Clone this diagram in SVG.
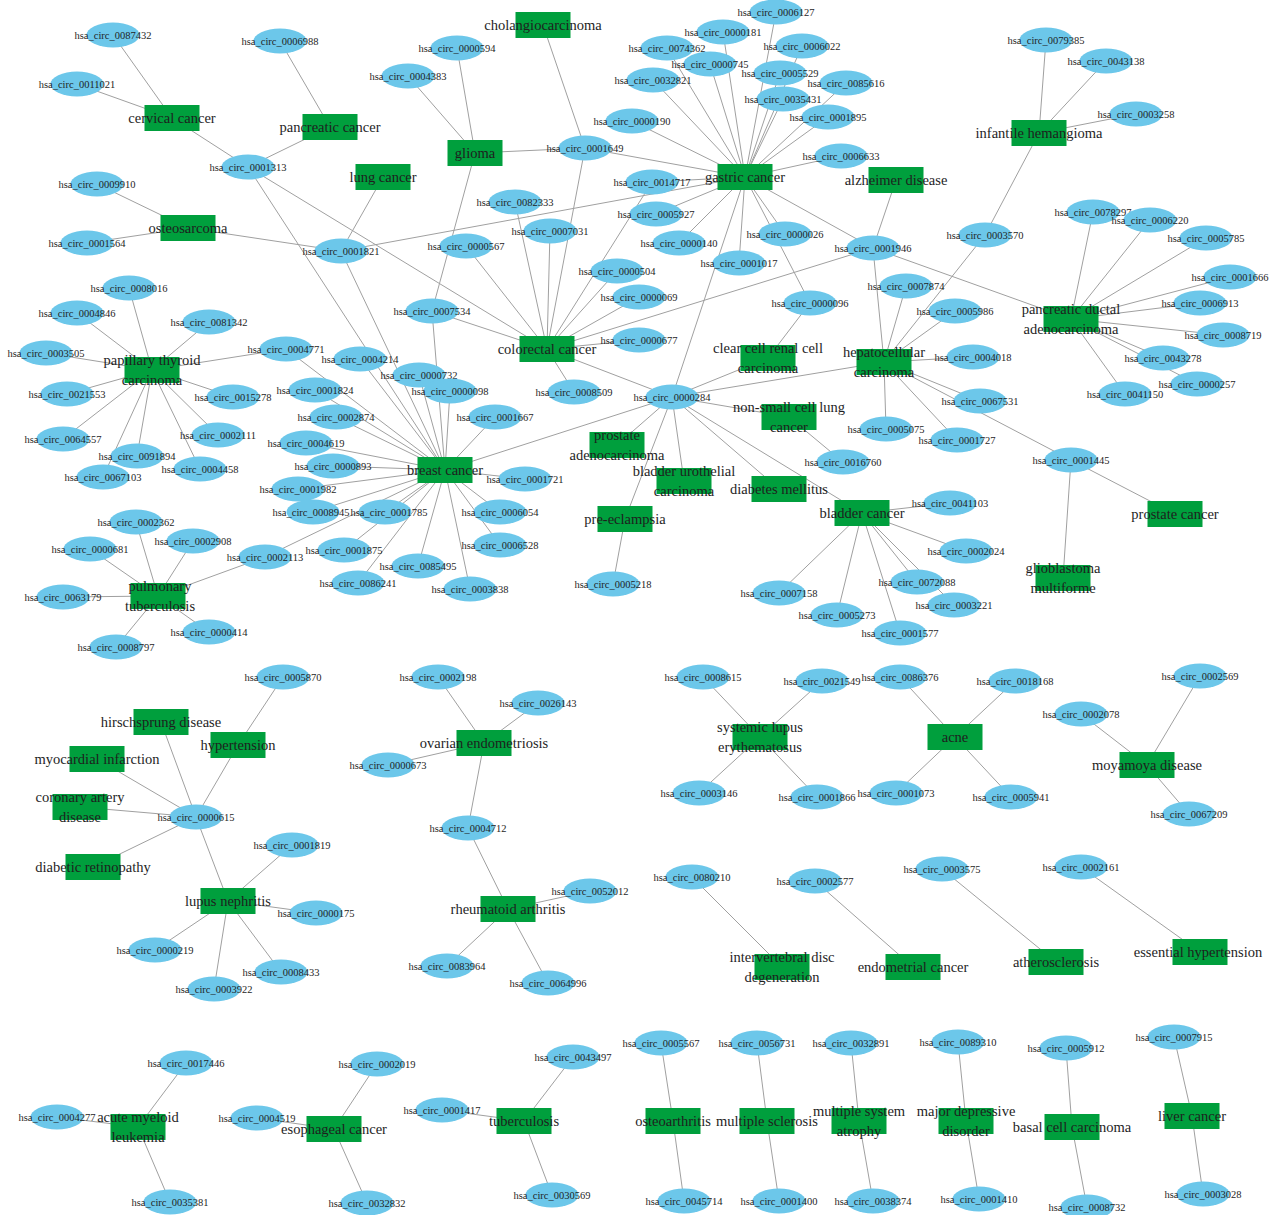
<svg xmlns="http://www.w3.org/2000/svg" width="1273" height="1215" viewBox="0 0 1273 1215">
<style>
.edges line{stroke:#a0a0a0;stroke-width:1}
.c ellipse{fill:#6cc7ea}
.d rect{fill:#009f3d}
text{font-family:"Liberation Serif","DejaVu Serif",serif;fill:#1e1e1e;text-anchor:middle;dominant-baseline:central}
.c text{font-size:10.5px}
.d text{font-size:14.5px}
</style>
<rect width="1273" height="1215" fill="#ffffff"/>
<g id="connectors" class="edges">
<line x1="172" y1="118" x2="113" y2="35"/><line x1="172" y1="118" x2="77" y2="84"/><line x1="172" y1="118" x2="248" y2="167"/>
<line x1="330" y1="127" x2="280" y2="41"/><line x1="330" y1="127" x2="248" y2="167"/>
<line x1="248" y1="167" x2="547" y2="349"/><line x1="248" y1="167" x2="445" y2="470"/>
<line x1="188" y1="228" x2="97" y2="184"/><line x1="188" y1="228" x2="87" y2="243"/><line x1="188" y1="228" x2="341" y2="251"/>
<line x1="383" y1="177" x2="341" y2="251"/><line x1="341" y1="251" x2="745" y2="177"/><line x1="341" y1="251" x2="445" y2="470"/>
<line x1="475" y1="153" x2="408" y2="76"/><line x1="475" y1="153" x2="457" y2="48"/><line x1="475" y1="153" x2="585" y2="148"/><line x1="475" y1="153" x2="432" y2="311"/>
<line x1="543" y1="25" x2="585" y2="148"/><line x1="585" y1="148" x2="745" y2="177"/><line x1="585" y1="148" x2="547" y2="349"/>
<line x1="745" y1="177" x2="632" y2="121"/><line x1="745" y1="177" x2="667" y2="48"/><line x1="745" y1="177" x2="723" y2="32"/><line x1="745" y1="177" x2="776" y2="12"/><line x1="745" y1="177" x2="802" y2="46"/><line x1="745" y1="177" x2="710" y2="64"/><line x1="745" y1="177" x2="780" y2="73"/><line x1="745" y1="177" x2="653" y2="80"/><line x1="745" y1="177" x2="783" y2="99"/><line x1="745" y1="177" x2="846" y2="83"/><line x1="745" y1="177" x2="828" y2="117"/><line x1="745" y1="177" x2="841" y2="156"/><line x1="745" y1="177" x2="652" y2="182"/><line x1="745" y1="177" x2="656" y2="214"/><line x1="745" y1="177" x2="679" y2="243"/><line x1="745" y1="177" x2="785" y2="234"/><line x1="745" y1="177" x2="810" y2="303"/><line x1="745" y1="177" x2="873" y2="248"/><line x1="745" y1="177" x2="672" y2="397"/><line x1="745" y1="177" x2="739" y2="263"/>
<line x1="547" y1="349" x2="515" y2="202"/><line x1="547" y1="349" x2="550" y2="231"/><line x1="547" y1="349" x2="466" y2="246"/><line x1="547" y1="349" x2="432" y2="311"/><line x1="547" y1="349" x2="652" y2="182"/><line x1="547" y1="349" x2="617" y2="271"/><line x1="547" y1="349" x2="639" y2="297"/><line x1="547" y1="349" x2="639" y2="340"/><line x1="547" y1="349" x2="574" y2="392"/><line x1="547" y1="349" x2="873" y2="248"/><line x1="547" y1="349" x2="672" y2="397"/>
<line x1="1039" y1="133" x2="1046" y2="40"/><line x1="1039" y1="133" x2="1106" y2="61"/><line x1="1039" y1="133" x2="1136" y2="114"/><line x1="1039" y1="133" x2="985" y2="235"/>
<line x1="896" y1="180" x2="873" y2="248"/><line x1="873" y1="248" x2="884" y2="362"/><line x1="873" y1="248" x2="1071" y2="319"/><line x1="985" y1="235" x2="884" y2="362"/>
<line x1="884" y1="362" x2="906" y2="286"/><line x1="884" y1="362" x2="955" y2="311"/><line x1="884" y1="362" x2="973" y2="357"/><line x1="884" y1="362" x2="980" y2="401"/><line x1="884" y1="362" x2="886" y2="429"/><line x1="884" y1="362" x2="957" y2="440"/><line x1="884" y1="362" x2="1071" y2="460"/><line x1="884" y1="362" x2="672" y2="397"/>
<line x1="1071" y1="319" x2="1093" y2="212"/><line x1="1071" y1="319" x2="1150" y2="220"/><line x1="1071" y1="319" x2="1206" y2="238"/><line x1="1071" y1="319" x2="1230" y2="277"/><line x1="1071" y1="319" x2="1200" y2="303"/><line x1="1071" y1="319" x2="1223" y2="335"/><line x1="1071" y1="319" x2="1163" y2="358"/><line x1="1071" y1="319" x2="1197" y2="384"/><line x1="1071" y1="319" x2="1125" y2="394"/>
<line x1="768" y1="358" x2="810" y2="303"/><line x1="768" y1="358" x2="672" y2="397"/><line x1="789" y1="417" x2="672" y2="397"/><line x1="789" y1="417" x2="843" y2="462"/>
<line x1="1071" y1="460" x2="1175" y2="514"/><line x1="1071" y1="460" x2="1063" y2="578"/>
<line x1="152" y1="370" x2="129" y2="288"/><line x1="152" y1="370" x2="77" y2="313"/><line x1="152" y1="370" x2="209" y2="322"/><line x1="152" y1="370" x2="46" y2="353"/><line x1="152" y1="370" x2="286" y2="349"/><line x1="152" y1="370" x2="67" y2="394"/><line x1="152" y1="370" x2="233" y2="397"/><line x1="152" y1="370" x2="63" y2="439"/><line x1="152" y1="370" x2="137" y2="456"/><line x1="152" y1="370" x2="103" y2="477"/><line x1="152" y1="370" x2="200" y2="469"/><line x1="152" y1="370" x2="218" y2="435"/>
<line x1="286" y1="349" x2="445" y2="470"/>
<line x1="445" y1="470" x2="360" y2="359"/><line x1="445" y1="470" x2="419" y2="375"/><line x1="445" y1="470" x2="450" y2="391"/><line x1="445" y1="470" x2="495" y2="417"/><line x1="445" y1="470" x2="315" y2="390"/><line x1="445" y1="470" x2="336" y2="417"/><line x1="445" y1="470" x2="306" y2="443"/><line x1="445" y1="470" x2="333" y2="466"/><line x1="445" y1="470" x2="298" y2="489"/><line x1="445" y1="470" x2="313" y2="512"/><line x1="445" y1="470" x2="385" y2="512"/><line x1="445" y1="470" x2="344" y2="550"/><line x1="445" y1="470" x2="358" y2="583"/><line x1="445" y1="470" x2="418" y2="566"/><line x1="445" y1="470" x2="470" y2="589"/><line x1="445" y1="470" x2="500" y2="545"/><line x1="445" y1="470" x2="500" y2="512"/><line x1="445" y1="470" x2="525" y2="479"/><line x1="445" y1="470" x2="672" y2="397"/><line x1="445" y1="470" x2="265" y2="557"/><line x1="445" y1="470" x2="432" y2="311"/>
<line x1="158" y1="596" x2="136" y2="522"/><line x1="158" y1="596" x2="193" y2="541"/><line x1="158" y1="596" x2="90" y2="549"/><line x1="158" y1="596" x2="63" y2="597"/><line x1="158" y1="596" x2="209" y2="632"/><line x1="158" y1="596" x2="116" y2="647"/><line x1="158" y1="596" x2="265" y2="557"/>
<line x1="672" y1="397" x2="617" y2="445"/><line x1="672" y1="397" x2="684" y2="481"/><line x1="672" y1="397" x2="625" y2="519"/><line x1="672" y1="397" x2="779" y2="489"/><line x1="672" y1="397" x2="862" y2="513"/>
<line x1="625" y1="519" x2="613" y2="584"/>
<line x1="862" y1="513" x2="950" y2="503"/><line x1="862" y1="513" x2="966" y2="551"/><line x1="862" y1="513" x2="917" y2="582"/><line x1="862" y1="513" x2="954" y2="605"/><line x1="862" y1="513" x2="900" y2="633"/><line x1="862" y1="513" x2="837" y2="615"/><line x1="862" y1="513" x2="779" y2="593"/>
<line x1="238" y1="745" x2="283" y2="677"/>
<line x1="196" y1="817" x2="161" y2="722"/><line x1="196" y1="817" x2="238" y2="745"/><line x1="196" y1="817" x2="97" y2="759"/><line x1="196" y1="817" x2="80" y2="807"/><line x1="196" y1="817" x2="93" y2="867"/><line x1="196" y1="817" x2="228" y2="901"/>
<line x1="228" y1="901" x2="292" y2="845"/><line x1="228" y1="901" x2="316" y2="913"/><line x1="228" y1="901" x2="155" y2="950"/><line x1="228" y1="901" x2="281" y2="972"/><line x1="228" y1="901" x2="214" y2="989"/>
<line x1="484" y1="743" x2="438" y2="677"/><line x1="484" y1="743" x2="538" y2="703"/><line x1="484" y1="743" x2="388" y2="765"/><line x1="484" y1="743" x2="468" y2="828"/><line x1="468" y1="828" x2="508" y2="909"/>
<line x1="508" y1="909" x2="590" y2="891"/><line x1="508" y1="909" x2="447" y2="966"/><line x1="508" y1="909" x2="548" y2="983"/>
<line x1="760" y1="737" x2="703" y2="677"/><line x1="760" y1="737" x2="822" y2="681"/><line x1="760" y1="737" x2="699" y2="793"/><line x1="760" y1="737" x2="817" y2="797"/>
<line x1="955" y1="737" x2="900" y2="677"/><line x1="955" y1="737" x2="1015" y2="681"/><line x1="955" y1="737" x2="896" y2="793"/><line x1="955" y1="737" x2="1011" y2="797"/>
<line x1="1147" y1="765" x2="1081" y2="714"/><line x1="1147" y1="765" x2="1200" y2="676"/><line x1="1147" y1="765" x2="1189" y2="814"/>
<line x1="782" y1="967" x2="692" y2="877"/><line x1="913" y1="967" x2="815" y2="881"/><line x1="1056" y1="962" x2="942" y2="869"/><line x1="1200" y1="952" x2="1081" y2="867"/>
<line x1="138" y1="1127" x2="186" y2="1063"/><line x1="138" y1="1127" x2="57" y2="1117"/><line x1="138" y1="1127" x2="170" y2="1202"/>
<line x1="334" y1="1129" x2="377" y2="1064"/><line x1="334" y1="1129" x2="257" y2="1118"/><line x1="334" y1="1129" x2="367" y2="1203"/>
<line x1="524" y1="1121" x2="573" y2="1057"/><line x1="524" y1="1121" x2="442" y2="1110"/><line x1="524" y1="1121" x2="552" y2="1195"/>
<line x1="673" y1="1121" x2="661" y2="1043"/><line x1="673" y1="1121" x2="684" y2="1201"/>
<line x1="767" y1="1121" x2="757" y2="1043"/><line x1="767" y1="1121" x2="779" y2="1201"/>
<line x1="859" y1="1121" x2="851" y2="1043"/><line x1="859" y1="1121" x2="873" y2="1201"/>
<line x1="966" y1="1121" x2="958" y2="1042"/><line x1="966" y1="1121" x2="979" y2="1199"/>
<line x1="1072" y1="1127" x2="1066" y2="1048"/><line x1="1072" y1="1127" x2="1087" y2="1207"/>
<line x1="1192" y1="1116" x2="1174" y2="1037"/><line x1="1192" y1="1116" x2="1203" y2="1194"/>
</g>
<g id="circ-nodes">
<g id="hsa_circ_0087432" class="c"><ellipse cx="113" cy="35" rx="26.5" ry="12.5"/><text x="113" y="35">hsa_circ_0087432</text></g>
<g id="hsa_circ_0011021" class="c"><ellipse cx="77" cy="84" rx="26.5" ry="12.5"/><text x="77" y="84">hsa_circ_0011021</text></g>
<g id="hsa_circ_0006988" class="c"><ellipse cx="280" cy="41" rx="26.5" ry="12.5"/><text x="280" y="41">hsa_circ_0006988</text></g>
<g id="hsa_circ_0001313" class="c"><ellipse cx="248" cy="167" rx="26.5" ry="12.5"/><text x="248" y="167">hsa_circ_0001313</text></g>
<g id="hsa_circ_0009910" class="c"><ellipse cx="97" cy="184" rx="26.5" ry="12.5"/><text x="97" y="184">hsa_circ_0009910</text></g>
<g id="hsa_circ_0004383" class="c"><ellipse cx="408" cy="76" rx="26.5" ry="12.5"/><text x="408" y="76">hsa_circ_0004383</text></g>
<g id="hsa_circ_0000594" class="c"><ellipse cx="457" cy="48" rx="26.5" ry="12.5"/><text x="457" y="48">hsa_circ_0000594</text></g>
<g id="hsa_circ_0001649" class="c"><ellipse cx="585" cy="148" rx="26.5" ry="12.5"/><text x="585" y="148">hsa_circ_0001649</text></g>
<g id="hsa_circ_0000190" class="c"><ellipse cx="632" cy="121" rx="26.5" ry="12.5"/><text x="632" y="121">hsa_circ_0000190</text></g>
<g id="hsa_circ_0074362" class="c"><ellipse cx="667" cy="48" rx="26.5" ry="12.5"/><text x="667" y="48">hsa_circ_0074362</text></g>
<g id="hsa_circ_0000181" class="c"><ellipse cx="723" cy="32" rx="26.5" ry="12.5"/><text x="723" y="32">hsa_circ_0000181</text></g>
<g id="hsa_circ_0006127" class="c"><ellipse cx="776" cy="12" rx="26.5" ry="12.5"/><text x="776" y="12">hsa_circ_0006127</text></g>
<g id="hsa_circ_0006022" class="c"><ellipse cx="802" cy="46" rx="26.5" ry="12.5"/><text x="802" y="46">hsa_circ_0006022</text></g>
<g id="hsa_circ_0000745" class="c"><ellipse cx="710" cy="64" rx="26.5" ry="12.5"/><text x="710" y="64">hsa_circ_0000745</text></g>
<g id="hsa_circ_0005529" class="c"><ellipse cx="780" cy="73" rx="26.5" ry="12.5"/><text x="780" y="73">hsa_circ_0005529</text></g>
<g id="hsa_circ_0032821" class="c"><ellipse cx="653" cy="80" rx="26.5" ry="12.5"/><text x="653" y="80">hsa_circ_0032821</text></g>
<g id="hsa_circ_0035431" class="c"><ellipse cx="783" cy="99" rx="26.5" ry="12.5"/><text x="783" y="99">hsa_circ_0035431</text></g>
<g id="hsa_circ_0085616" class="c"><ellipse cx="846" cy="83" rx="26.5" ry="12.5"/><text x="846" y="83">hsa_circ_0085616</text></g>
<g id="hsa_circ_0001895" class="c"><ellipse cx="828" cy="117" rx="26.5" ry="12.5"/><text x="828" y="117">hsa_circ_0001895</text></g>
<g id="hsa_circ_0006633" class="c"><ellipse cx="841" cy="156" rx="26.5" ry="12.5"/><text x="841" y="156">hsa_circ_0006633</text></g>
<g id="hsa_circ_0014717" class="c"><ellipse cx="652" cy="182" rx="26.5" ry="12.5"/><text x="652" y="182">hsa_circ_0014717</text></g>
<g id="hsa_circ_0082333" class="c"><ellipse cx="515" cy="202" rx="26.5" ry="12.5"/><text x="515" y="202">hsa_circ_0082333</text></g>
<g id="hsa_circ_0005927" class="c"><ellipse cx="656" cy="214" rx="26.5" ry="12.5"/><text x="656" y="214">hsa_circ_0005927</text></g>
<g id="hsa_circ_0079385" class="c"><ellipse cx="1046" cy="40" rx="26.5" ry="12.5"/><text x="1046" y="40">hsa_circ_0079385</text></g>
<g id="hsa_circ_0043138" class="c"><ellipse cx="1106" cy="61" rx="26.5" ry="12.5"/><text x="1106" y="61">hsa_circ_0043138</text></g>
<g id="hsa_circ_0003258" class="c"><ellipse cx="1136" cy="114" rx="26.5" ry="12.5"/><text x="1136" y="114">hsa_circ_0003258</text></g>
<g id="hsa_circ_0078297" class="c"><ellipse cx="1093" cy="212" rx="26.5" ry="12.5"/><text x="1093" y="212">hsa_circ_0078297</text></g>
<g id="hsa_circ_0006220" class="c"><ellipse cx="1150" cy="220" rx="26.5" ry="12.5"/><text x="1150" y="220">hsa_circ_0006220</text></g>
<g id="hsa_circ_0001564" class="c"><ellipse cx="87" cy="243" rx="26.5" ry="12.5"/><text x="87" y="243">hsa_circ_0001564</text></g>
<g id="hsa_circ_0001821" class="c"><ellipse cx="341" cy="251" rx="26.5" ry="12.5"/><text x="341" y="251">hsa_circ_0001821</text></g>
<g id="hsa_circ_0008016" class="c"><ellipse cx="129" cy="288" rx="26.5" ry="12.5"/><text x="129" y="288">hsa_circ_0008016</text></g>
<g id="hsa_circ_0004846" class="c"><ellipse cx="77" cy="313" rx="26.5" ry="12.5"/><text x="77" y="313">hsa_circ_0004846</text></g>
<g id="hsa_circ_0081342" class="c"><ellipse cx="209" cy="322" rx="26.5" ry="12.5"/><text x="209" y="322">hsa_circ_0081342</text></g>
<g id="hsa_circ_0003505" class="c"><ellipse cx="46" cy="353" rx="26.5" ry="12.5"/><text x="46" y="353">hsa_circ_0003505</text></g>
<g id="hsa_circ_0004771" class="c"><ellipse cx="286" cy="349" rx="26.5" ry="12.5"/><text x="286" y="349">hsa_circ_0004771</text></g>
<g id="hsa_circ_0004214" class="c"><ellipse cx="360" cy="359" rx="26.5" ry="12.5"/><text x="360" y="359">hsa_circ_0004214</text></g>
<g id="hsa_circ_0021553" class="c"><ellipse cx="67" cy="394" rx="26.5" ry="12.5"/><text x="67" y="394">hsa_circ_0021553</text></g>
<g id="hsa_circ_0015278" class="c"><ellipse cx="233" cy="397" rx="26.5" ry="12.5"/><text x="233" y="397">hsa_circ_0015278</text></g>
<g id="hsa_circ_0001824" class="c"><ellipse cx="315" cy="390" rx="26.5" ry="12.5"/><text x="315" y="390">hsa_circ_0001824</text></g>
<g id="hsa_circ_0002874" class="c"><ellipse cx="336" cy="417" rx="26.5" ry="12.5"/><text x="336" y="417">hsa_circ_0002874</text></g>
<g id="hsa_circ_0000567" class="c"><ellipse cx="466" cy="246" rx="26.5" ry="12.5"/><text x="466" y="246">hsa_circ_0000567</text></g>
<g id="hsa_circ_0007534" class="c"><ellipse cx="432" cy="311" rx="26.5" ry="12.5"/><text x="432" y="311">hsa_circ_0007534</text></g>
<g id="hsa_circ_0000732" class="c"><ellipse cx="419" cy="375" rx="26.5" ry="12.5"/><text x="419" y="375">hsa_circ_0000732</text></g>
<g id="hsa_circ_0000098" class="c"><ellipse cx="450" cy="391" rx="26.5" ry="12.5"/><text x="450" y="391">hsa_circ_0000098</text></g>
<g id="hsa_circ_0001667" class="c"><ellipse cx="495" cy="417" rx="26.5" ry="12.5"/><text x="495" y="417">hsa_circ_0001667</text></g>
<g id="hsa_circ_0007031" class="c"><ellipse cx="550" cy="231" rx="26.5" ry="12.5"/><text x="550" y="231">hsa_circ_0007031</text></g>
<g id="hsa_circ_0000140" class="c"><ellipse cx="679" cy="243" rx="26.5" ry="12.5"/><text x="679" y="243">hsa_circ_0000140</text></g>
<g id="hsa_circ_0000026" class="c"><ellipse cx="785" cy="234" rx="26.5" ry="12.5"/><text x="785" y="234">hsa_circ_0000026</text></g>
<g id="hsa_circ_0001017" class="c"><ellipse cx="739" cy="263" rx="26.5" ry="12.5"/><text x="739" y="263">hsa_circ_0001017</text></g>
<g id="hsa_circ_0000504" class="c"><ellipse cx="617" cy="271" rx="26.5" ry="12.5"/><text x="617" y="271">hsa_circ_0000504</text></g>
<g id="hsa_circ_0000069" class="c"><ellipse cx="639" cy="297" rx="26.5" ry="12.5"/><text x="639" y="297">hsa_circ_0000069</text></g>
<g id="hsa_circ_0000096" class="c"><ellipse cx="810" cy="303" rx="26.5" ry="12.5"/><text x="810" y="303">hsa_circ_0000096</text></g>
<g id="hsa_circ_0000677" class="c"><ellipse cx="639" cy="340" rx="26.5" ry="12.5"/><text x="639" y="340">hsa_circ_0000677</text></g>
<g id="hsa_circ_0008509" class="c"><ellipse cx="574" cy="392" rx="26.5" ry="12.5"/><text x="574" y="392">hsa_circ_0008509</text></g>
<g id="hsa_circ_0000284" class="c"><ellipse cx="672" cy="397" rx="26.5" ry="12.5"/><text x="672" y="397">hsa_circ_0000284</text></g>
<g id="hsa_circ_0001946" class="c"><ellipse cx="873" cy="248" rx="26.5" ry="12.5"/><text x="873" y="248">hsa_circ_0001946</text></g>
<g id="hsa_circ_0003570" class="c"><ellipse cx="985" cy="235" rx="26.5" ry="12.5"/><text x="985" y="235">hsa_circ_0003570</text></g>
<g id="hsa_circ_0005785" class="c"><ellipse cx="1206" cy="238" rx="26.5" ry="12.5"/><text x="1206" y="238">hsa_circ_0005785</text></g>
<g id="hsa_circ_0007874" class="c"><ellipse cx="906" cy="286" rx="26.5" ry="12.5"/><text x="906" y="286">hsa_circ_0007874</text></g>
<g id="hsa_circ_0005986" class="c"><ellipse cx="955" cy="311" rx="26.5" ry="12.5"/><text x="955" y="311">hsa_circ_0005986</text></g>
<g id="hsa_circ_0001666" class="c"><ellipse cx="1230" cy="277" rx="26.5" ry="12.5"/><text x="1230" y="277">hsa_circ_0001666</text></g>
<g id="hsa_circ_0006913" class="c"><ellipse cx="1200" cy="303" rx="26.5" ry="12.5"/><text x="1200" y="303">hsa_circ_0006913</text></g>
<g id="hsa_circ_0008719" class="c"><ellipse cx="1223" cy="335" rx="26.5" ry="12.5"/><text x="1223" y="335">hsa_circ_0008719</text></g>
<g id="hsa_circ_0004018" class="c"><ellipse cx="973" cy="357" rx="26.5" ry="12.5"/><text x="973" y="357">hsa_circ_0004018</text></g>
<g id="hsa_circ_0043278" class="c"><ellipse cx="1163" cy="358" rx="26.5" ry="12.5"/><text x="1163" y="358">hsa_circ_0043278</text></g>
<g id="hsa_circ_0000257" class="c"><ellipse cx="1197" cy="384" rx="26.5" ry="12.5"/><text x="1197" y="384">hsa_circ_0000257</text></g>
<g id="hsa_circ_0041150" class="c"><ellipse cx="1125" cy="394" rx="26.5" ry="12.5"/><text x="1125" y="394">hsa_circ_0041150</text></g>
<g id="hsa_circ_0067531" class="c"><ellipse cx="980" cy="401" rx="26.5" ry="12.5"/><text x="980" y="401">hsa_circ_0067531</text></g>
<g id="hsa_circ_0005075" class="c"><ellipse cx="886" cy="429" rx="26.5" ry="12.5"/><text x="886" y="429">hsa_circ_0005075</text></g>
<g id="hsa_circ_0064557" class="c"><ellipse cx="63" cy="439" rx="26.5" ry="12.5"/><text x="63" y="439">hsa_circ_0064557</text></g>
<g id="hsa_circ_0002111" class="c"><ellipse cx="218" cy="435" rx="26.5" ry="12.5"/><text x="218" y="435">hsa_circ_0002111</text></g>
<g id="hsa_circ_0091894" class="c"><ellipse cx="137" cy="456" rx="26.5" ry="12.5"/><text x="137" y="456">hsa_circ_0091894</text></g>
<g id="hsa_circ_0004458" class="c"><ellipse cx="200" cy="469" rx="26.5" ry="12.5"/><text x="200" y="469">hsa_circ_0004458</text></g>
<g id="hsa_circ_0067103" class="c"><ellipse cx="103" cy="477" rx="26.5" ry="12.5"/><text x="103" y="477">hsa_circ_0067103</text></g>
<g id="hsa_circ_0004619" class="c"><ellipse cx="306" cy="443" rx="26.5" ry="12.5"/><text x="306" y="443">hsa_circ_0004619</text></g>
<g id="hsa_circ_0000893" class="c"><ellipse cx="333" cy="466" rx="26.5" ry="12.5"/><text x="333" y="466">hsa_circ_0000893</text></g>
<g id="hsa_circ_0001982" class="c"><ellipse cx="298" cy="489" rx="26.5" ry="12.5"/><text x="298" y="489">hsa_circ_0001982</text></g>
<g id="hsa_circ_0008945" class="c"><ellipse cx="313" cy="512" rx="26.5" ry="12.5"/><text x="311" y="512">hsa_circ_0008945</text></g>
<g id="hsa_circ_0001785" class="c"><ellipse cx="385" cy="512" rx="26.5" ry="12.5"/><text x="389" y="512">hsa_circ_0001785</text></g>
<g id="hsa_circ_0001875" class="c"><ellipse cx="344" cy="550" rx="26.5" ry="12.5"/><text x="344" y="550">hsa_circ_0001875</text></g>
<g id="hsa_circ_0086241" class="c"><ellipse cx="358" cy="583" rx="26.5" ry="12.5"/><text x="358" y="583">hsa_circ_0086241</text></g>
<g id="hsa_circ_0085495" class="c"><ellipse cx="418" cy="566" rx="26.5" ry="12.5"/><text x="418" y="566">hsa_circ_0085495</text></g>
<g id="hsa_circ_0002362" class="c"><ellipse cx="136" cy="522" rx="26.5" ry="12.5"/><text x="136" y="522">hsa_circ_0002362</text></g>
<g id="hsa_circ_0002908" class="c"><ellipse cx="193" cy="541" rx="26.5" ry="12.5"/><text x="193" y="541">hsa_circ_0002908</text></g>
<g id="hsa_circ_0000681" class="c"><ellipse cx="90" cy="549" rx="26.5" ry="12.5"/><text x="90" y="549">hsa_circ_0000681</text></g>
<g id="hsa_circ_0002113" class="c"><ellipse cx="265" cy="557" rx="26.5" ry="12.5"/><text x="265" y="557">hsa_circ_0002113</text></g>
<g id="hsa_circ_0063179" class="c"><ellipse cx="63" cy="597" rx="26.5" ry="12.5"/><text x="63" y="597">hsa_circ_0063179</text></g>
<g id="hsa_circ_0000414" class="c"><ellipse cx="209" cy="632" rx="26.5" ry="12.5"/><text x="209" y="632">hsa_circ_0000414</text></g>
<g id="hsa_circ_0008797" class="c"><ellipse cx="116" cy="647" rx="26.5" ry="12.5"/><text x="116" y="647">hsa_circ_0008797</text></g>
<g id="hsa_circ_0001721" class="c"><ellipse cx="525" cy="479" rx="26.5" ry="12.5"/><text x="525" y="479">hsa_circ_0001721</text></g>
<g id="hsa_circ_0006054" class="c"><ellipse cx="500" cy="512" rx="26.5" ry="12.5"/><text x="500" y="512">hsa_circ_0006054</text></g>
<g id="hsa_circ_0006528" class="c"><ellipse cx="500" cy="545" rx="26.5" ry="12.5"/><text x="500" y="545">hsa_circ_0006528</text></g>
<g id="hsa_circ_0003838" class="c"><ellipse cx="470" cy="589" rx="26.5" ry="12.5"/><text x="470" y="589">hsa_circ_0003838</text></g>
<g id="hsa_circ_0005218" class="c"><ellipse cx="613" cy="584" rx="26.5" ry="12.5"/><text x="613" y="584">hsa_circ_0005218</text></g>
<g id="hsa_circ_0007158" class="c"><ellipse cx="779" cy="593" rx="26.5" ry="12.5"/><text x="779" y="593">hsa_circ_0007158</text></g>
<g id="hsa_circ_0005273" class="c"><ellipse cx="837" cy="615" rx="26.5" ry="12.5"/><text x="837" y="615">hsa_circ_0005273</text></g>
<g id="hsa_circ_0016760" class="c"><ellipse cx="843" cy="462" rx="26.5" ry="12.5"/><text x="843" y="462">hsa_circ_0016760</text></g>
<g id="hsa_circ_0001727" class="c"><ellipse cx="957" cy="440" rx="26.5" ry="12.5"/><text x="957" y="440">hsa_circ_0001727</text></g>
<g id="hsa_circ_0001445" class="c"><ellipse cx="1071" cy="460" rx="26.5" ry="12.5"/><text x="1071" y="460">hsa_circ_0001445</text></g>
<g id="hsa_circ_0041103" class="c"><ellipse cx="950" cy="503" rx="26.5" ry="12.5"/><text x="950" y="503">hsa_circ_0041103</text></g>
<g id="hsa_circ_0002024" class="c"><ellipse cx="966" cy="551" rx="26.5" ry="12.5"/><text x="966" y="551">hsa_circ_0002024</text></g>
<g id="hsa_circ_0072088" class="c"><ellipse cx="917" cy="582" rx="26.5" ry="12.5"/><text x="917" y="582">hsa_circ_0072088</text></g>
<g id="hsa_circ_0003221" class="c"><ellipse cx="954" cy="605" rx="26.5" ry="12.5"/><text x="954" y="605">hsa_circ_0003221</text></g>
<g id="hsa_circ_0001577" class="c"><ellipse cx="900" cy="633" rx="26.5" ry="12.5"/><text x="900" y="633">hsa_circ_0001577</text></g>
<g id="hsa_circ_0005870" class="c"><ellipse cx="283" cy="677" rx="26.5" ry="12.5"/><text x="283" y="677">hsa_circ_0005870</text></g>
<g id="hsa_circ_0000615" class="c"><ellipse cx="196" cy="817" rx="26.5" ry="12.5"/><text x="196" y="817">hsa_circ_0000615</text></g>
<g id="hsa_circ_0001819" class="c"><ellipse cx="292" cy="845" rx="26.5" ry="12.5"/><text x="292" y="845">hsa_circ_0001819</text></g>
<g id="hsa_circ_0000175" class="c"><ellipse cx="316" cy="913" rx="26.5" ry="12.5"/><text x="316" y="913">hsa_circ_0000175</text></g>
<g id="hsa_circ_0000219" class="c"><ellipse cx="155" cy="950" rx="26.5" ry="12.5"/><text x="155" y="950">hsa_circ_0000219</text></g>
<g id="hsa_circ_0008433" class="c"><ellipse cx="281" cy="972" rx="26.5" ry="12.5"/><text x="281" y="972">hsa_circ_0008433</text></g>
<g id="hsa_circ_0003922" class="c"><ellipse cx="214" cy="989" rx="26.5" ry="12.5"/><text x="214" y="989">hsa_circ_0003922</text></g>
<g id="hsa_circ_0002198" class="c"><ellipse cx="438" cy="677" rx="26.5" ry="12.5"/><text x="438" y="677">hsa_circ_0002198</text></g>
<g id="hsa_circ_0026143" class="c"><ellipse cx="538" cy="703" rx="26.5" ry="12.5"/><text x="538" y="703">hsa_circ_0026143</text></g>
<g id="hsa_circ_0000673" class="c"><ellipse cx="388" cy="765" rx="26.5" ry="12.5"/><text x="388" y="765">hsa_circ_0000673</text></g>
<g id="hsa_circ_0004712" class="c"><ellipse cx="468" cy="828" rx="26.5" ry="12.5"/><text x="468" y="828">hsa_circ_0004712</text></g>
<g id="hsa_circ_0052012" class="c"><ellipse cx="590" cy="891" rx="26.5" ry="12.5"/><text x="590" y="891">hsa_circ_0052012</text></g>
<g id="hsa_circ_0083964" class="c"><ellipse cx="447" cy="966" rx="26.5" ry="12.5"/><text x="447" y="966">hsa_circ_0083964</text></g>
<g id="hsa_circ_0064996" class="c"><ellipse cx="548" cy="983" rx="26.5" ry="12.5"/><text x="548" y="983">hsa_circ_0064996</text></g>
<g id="hsa_circ_0008615" class="c"><ellipse cx="703" cy="677" rx="26.5" ry="12.5"/><text x="703" y="677">hsa_circ_0008615</text></g>
<g id="hsa_circ_0021549" class="c"><ellipse cx="822" cy="681" rx="26.5" ry="12.5"/><text x="822" y="681">hsa_circ_0021549</text></g>
<g id="hsa_circ_0086376" class="c"><ellipse cx="900" cy="677" rx="26.5" ry="12.5"/><text x="900" y="677">hsa_circ_0086376</text></g>
<g id="hsa_circ_0018168" class="c"><ellipse cx="1015" cy="681" rx="26.5" ry="12.5"/><text x="1015" y="681">hsa_circ_0018168</text></g>
<g id="hsa_circ_0002569" class="c"><ellipse cx="1200" cy="676" rx="26.5" ry="12.5"/><text x="1200" y="676">hsa_circ_0002569</text></g>
<g id="hsa_circ_0002078" class="c"><ellipse cx="1081" cy="714" rx="26.5" ry="12.5"/><text x="1081" y="714">hsa_circ_0002078</text></g>
<g id="hsa_circ_0003146" class="c"><ellipse cx="699" cy="793" rx="26.5" ry="12.5"/><text x="699" y="793">hsa_circ_0003146</text></g>
<g id="hsa_circ_0001866" class="c"><ellipse cx="817" cy="797" rx="26.5" ry="12.5"/><text x="817" y="797">hsa_circ_0001866</text></g>
<g id="hsa_circ_0001073" class="c"><ellipse cx="896" cy="793" rx="26.5" ry="12.5"/><text x="896" y="793">hsa_circ_0001073</text></g>
<g id="hsa_circ_0005941" class="c"><ellipse cx="1011" cy="797" rx="26.5" ry="12.5"/><text x="1011" y="797">hsa_circ_0005941</text></g>
<g id="hsa_circ_0067209" class="c"><ellipse cx="1189" cy="814" rx="26.5" ry="12.5"/><text x="1189" y="814">hsa_circ_0067209</text></g>
<g id="hsa_circ_0080210" class="c"><ellipse cx="692" cy="877" rx="26.5" ry="12.5"/><text x="692" y="877">hsa_circ_0080210</text></g>
<g id="hsa_circ_0002577" class="c"><ellipse cx="815" cy="881" rx="26.5" ry="12.5"/><text x="815" y="881">hsa_circ_0002577</text></g>
<g id="hsa_circ_0003575" class="c"><ellipse cx="942" cy="869" rx="26.5" ry="12.5"/><text x="942" y="869">hsa_circ_0003575</text></g>
<g id="hsa_circ_0002161" class="c"><ellipse cx="1081" cy="867" rx="26.5" ry="12.5"/><text x="1081" y="867">hsa_circ_0002161</text></g>
<g id="hsa_circ_0004277" class="c"><ellipse cx="57" cy="1117" rx="26.5" ry="12.5"/><text x="57" y="1117">hsa_circ_0004277</text></g>
<g id="hsa_circ_0017446" class="c"><ellipse cx="186" cy="1063" rx="26.5" ry="12.5"/><text x="186" y="1063">hsa_circ_0017446</text></g>
<g id="hsa_circ_0035381" class="c"><ellipse cx="170" cy="1202" rx="26.5" ry="12.5"/><text x="170" y="1202">hsa_circ_0035381</text></g>
<g id="hsa_circ_0004519" class="c"><ellipse cx="257" cy="1118" rx="26.5" ry="12.5"/><text x="257" y="1118">hsa_circ_0004519</text></g>
<g id="hsa_circ_0002019" class="c"><ellipse cx="377" cy="1064" rx="26.5" ry="12.5"/><text x="377" y="1064">hsa_circ_0002019</text></g>
<g id="hsa_circ_0032832" class="c"><ellipse cx="367" cy="1203" rx="26.5" ry="12.5"/><text x="367" y="1203">hsa_circ_0032832</text></g>
<g id="hsa_circ_0001417" class="c"><ellipse cx="442" cy="1110" rx="26.5" ry="12.5"/><text x="442" y="1110">hsa_circ_0001417</text></g>
<g id="hsa_circ_0043497" class="c"><ellipse cx="573" cy="1057" rx="26.5" ry="12.5"/><text x="573" y="1057">hsa_circ_0043497</text></g>
<g id="hsa_circ_0030569" class="c"><ellipse cx="552" cy="1195" rx="26.5" ry="12.5"/><text x="552" y="1195">hsa_circ_0030569</text></g>
<g id="hsa_circ_0005567" class="c"><ellipse cx="661" cy="1043" rx="26.5" ry="12.5"/><text x="661" y="1043">hsa_circ_0005567</text></g>
<g id="hsa_circ_0045714" class="c"><ellipse cx="684" cy="1201" rx="26.5" ry="12.5"/><text x="684" y="1201">hsa_circ_0045714</text></g>
<g id="hsa_circ_0056731" class="c"><ellipse cx="757" cy="1043" rx="26.5" ry="12.5"/><text x="757" y="1043">hsa_circ_0056731</text></g>
<g id="hsa_circ_0001400" class="c"><ellipse cx="779" cy="1201" rx="26.5" ry="12.5"/><text x="779" y="1201">hsa_circ_0001400</text></g>
<g id="hsa_circ_0032891" class="c"><ellipse cx="851" cy="1043" rx="26.5" ry="12.5"/><text x="851" y="1043">hsa_circ_0032891</text></g>
<g id="hsa_circ_0038374" class="c"><ellipse cx="873" cy="1201" rx="26.5" ry="12.5"/><text x="873" y="1201">hsa_circ_0038374</text></g>
<g id="hsa_circ_0089310" class="c"><ellipse cx="958" cy="1042" rx="26.5" ry="12.5"/><text x="958" y="1042">hsa_circ_0089310</text></g>
<g id="hsa_circ_0001410" class="c"><ellipse cx="979" cy="1199" rx="26.5" ry="12.5"/><text x="979" y="1199">hsa_circ_0001410</text></g>
<g id="hsa_circ_0005912" class="c"><ellipse cx="1066" cy="1048" rx="26.5" ry="12.5"/><text x="1066" y="1048">hsa_circ_0005912</text></g>
<g id="hsa_circ_0008732" class="c"><ellipse cx="1087" cy="1207" rx="26.5" ry="12.5"/><text x="1087" y="1207">hsa_circ_0008732</text></g>
<g id="hsa_circ_0007915" class="c"><ellipse cx="1174" cy="1037" rx="26.5" ry="12.5"/><text x="1174" y="1037">hsa_circ_0007915</text></g>
<g id="hsa_circ_0003028" class="c"><ellipse cx="1203" cy="1194" rx="26.5" ry="12.5"/><text x="1203" y="1194">hsa_circ_0003028</text></g>
</g>
<g id="disease-nodes">
<g id="d_cervical_cancer" class="d"><rect x="144.5" y="105" width="55" height="26"/><text x="172" y="118">cervical cancer</text></g>
<g id="d_pancreatic_cancer" class="d"><rect x="302.5" y="114" width="55" height="26"/><text x="330" y="127">pancreatic cancer</text></g>
<g id="d_lung_cancer" class="d"><rect x="355.5" y="164" width="55" height="26"/><text x="383" y="177">lung cancer</text></g>
<g id="d_osteosarcoma" class="d"><rect x="160.5" y="215" width="55" height="26"/><text x="188" y="228">osteosarcoma</text></g>
<g id="d_cholangiocarcinoma" class="d"><rect x="515.5" y="12" width="55" height="26"/><text x="543" y="25">cholangiocarcinoma</text></g>
<g id="d_glioma" class="d"><rect x="447.5" y="140" width="55" height="26"/><text x="475" y="153">glioma</text></g>
<g id="d_gastric_cancer" class="d"><rect x="717.5" y="164" width="55" height="26"/><text x="745" y="177">gastric cancer</text></g>
<g id="d_infantile_hemangioma" class="d"><rect x="1011.5" y="120" width="55" height="26"/><text x="1039" y="133">infantile hemangioma</text></g>
<g id="d_alzheimer_disease" class="d"><rect x="868.5" y="167" width="55" height="26"/><text x="896" y="180">alzheimer disease</text></g>
<g id="d_papillary_thyroid_carcinoma" class="d"><rect x="124.5" y="357" width="55" height="26"/><text x="152" y="360">papillary thyroid</text><text x="152" y="380">carcinoma</text></g>
<g id="d_colorectal_cancer" class="d"><rect x="519.5" y="336" width="55" height="26"/><text x="547" y="349">colorectal cancer</text></g>
<g id="d_clear_cell_renal_cell_carcinoma" class="d"><rect x="740.5" y="345" width="55" height="26"/><text x="768" y="348">clear cell renal cell</text><text x="768" y="368">carcinoma</text></g>
<g id="d_pancreatic_ductal_adenocarcinoma" class="d"><rect x="1043.5" y="306" width="55" height="26"/><text x="1071" y="309">pancreatic ductal</text><text x="1071" y="329">adenocarcinoma</text></g>
<g id="d_hepatocellular_carcinoma" class="d"><rect x="856.5" y="349" width="55" height="26"/><text x="884" y="352">hepatocellular</text><text x="884" y="372">carcinoma</text></g>
<g id="d_non_small_cell_lung_cancer" class="d"><rect x="761.5" y="404" width="55" height="26"/><text x="789" y="407">non-small cell lung</text><text x="789" y="427">cancer</text></g>
<g id="d_breast_cancer" class="d"><rect x="417.5" y="457" width="55" height="26"/><text x="445" y="470">breast cancer</text></g>
<g id="d_prostate_adenocarcinoma" class="d"><rect x="589.5" y="432" width="55" height="26"/><text x="617" y="435">prostate</text><text x="617" y="455">adenocarcinoma</text></g>
<g id="d_bladder_urothelial_carcinoma" class="d"><rect x="656.5" y="468" width="55" height="26"/><text x="684" y="471">bladder urothelial</text><text x="684" y="491">carcinoma</text></g>
<g id="d_diabetes_mellitus" class="d"><rect x="751.5" y="476" width="55" height="26"/><text x="779" y="489">diabetes mellitus</text></g>
<g id="d_pre_eclampsia" class="d"><rect x="597.5" y="506" width="55" height="26"/><text x="625" y="519">pre-eclampsia</text></g>
<g id="d_bladder_cancer" class="d"><rect x="834.5" y="500" width="55" height="26"/><text x="862" y="513">bladder cancer</text></g>
<g id="d_prostate_cancer" class="d"><rect x="1147.5" y="501" width="55" height="26"/><text x="1175" y="514">prostate cancer</text></g>
<g id="d_glioblastoma_multiforme" class="d"><rect x="1035.5" y="565" width="55" height="26"/><text x="1063" y="568">glioblastoma</text><text x="1063" y="588">multiforme</text></g>
<g id="d_pulmonary_tuberculosis" class="d"><rect x="130.5" y="583" width="55" height="26"/><text x="160" y="586">pulmonary</text><text x="160" y="606">tuberculosis</text></g>
<g id="d_hirschsprung_disease" class="d"><rect x="133.5" y="709" width="55" height="26"/><text x="161" y="722">hirschsprung disease</text></g>
<g id="d_hypertension" class="d"><rect x="210.5" y="732" width="55" height="26"/><text x="238" y="745">hypertension</text></g>
<g id="d_myocardial_infarction" class="d"><rect x="69.5" y="746" width="55" height="26"/><text x="97" y="759">myocardial infarction</text></g>
<g id="d_coronary_artery_disease" class="d"><rect x="52.5" y="794" width="55" height="26"/><text x="80" y="797">coronary artery</text><text x="80" y="817">disease</text></g>
<g id="d_diabetic_retinopathy" class="d"><rect x="65.5" y="854" width="55" height="26"/><text x="93" y="867">diabetic retinopathy</text></g>
<g id="d_lupus_nephritis" class="d"><rect x="200.5" y="888" width="55" height="26"/><text x="228" y="901">lupus nephritis</text></g>
<g id="d_ovarian_endometriosis" class="d"><rect x="456.5" y="730" width="55" height="26"/><text x="484" y="743">ovarian endometriosis</text></g>
<g id="d_rheumatoid_arthritis" class="d"><rect x="480.5" y="896" width="55" height="26"/><text x="508" y="909">rheumatoid arthritis</text></g>
<g id="d_systemic_lupus_erythematosus" class="d"><rect x="732.5" y="724" width="55" height="26"/><text x="760" y="727">systemic lupus</text><text x="760" y="747">erythematosus</text></g>
<g id="d_acne" class="d"><rect x="927.5" y="724" width="55" height="26"/><text x="955" y="737">acne</text></g>
<g id="d_moyamoya_disease" class="d"><rect x="1119.5" y="752" width="55" height="26"/><text x="1147" y="765">moyamoya disease</text></g>
<g id="d_intervertebral_disc_degeneration" class="d"><rect x="754.5" y="954" width="55" height="26"/><text x="782" y="957">intervertebral disc</text><text x="782" y="977">degeneration</text></g>
<g id="d_endometrial_cancer" class="d"><rect x="885.5" y="954" width="55" height="26"/><text x="913" y="967">endometrial cancer</text></g>
<g id="d_atherosclerosis" class="d"><rect x="1028.5" y="949" width="55" height="26"/><text x="1056" y="962">atherosclerosis</text></g>
<g id="d_essential_hypertension" class="d"><rect x="1172.5" y="939" width="55" height="26"/><text x="1198" y="952">essential hypertension</text></g>
<g id="d_acute_myeloid_leukemia" class="d"><rect x="110.5" y="1114" width="55" height="26"/><text x="138" y="1117">acute myeloid</text><text x="138" y="1137">leukemia</text></g>
<g id="d_esophageal_cancer" class="d"><rect x="306.5" y="1116" width="55" height="26"/><text x="334" y="1129">esophageal cancer</text></g>
<g id="d_tuberculosis" class="d"><rect x="496.5" y="1108" width="55" height="26"/><text x="524" y="1121">tuberculosis</text></g>
<g id="d_osteoarthritis" class="d"><rect x="645.5" y="1108" width="55" height="26"/><text x="673" y="1121">osteoarthritis</text></g>
<g id="d_multiple_sclerosis" class="d"><rect x="739.5" y="1108" width="55" height="26"/><text x="767" y="1121">multiple sclerosis</text></g>
<g id="d_multiple_system_atrophy" class="d"><rect x="831.5" y="1108" width="55" height="26"/><text x="859" y="1111">multiple system</text><text x="859" y="1131">atrophy</text></g>
<g id="d_major_depressive_disorder" class="d"><rect x="938.5" y="1108" width="55" height="26"/><text x="966" y="1111">major depressive</text><text x="966" y="1131">disorder</text></g>
<g id="d_basal_cell_carcinoma" class="d"><rect x="1044.5" y="1114" width="55" height="26"/><text x="1072" y="1127">basal cell carcinoma</text></g>
<g id="d_liver_cancer" class="d"><rect x="1164.5" y="1103" width="55" height="26"/><text x="1192" y="1116">liver cancer</text></g>
</g>
</svg>
